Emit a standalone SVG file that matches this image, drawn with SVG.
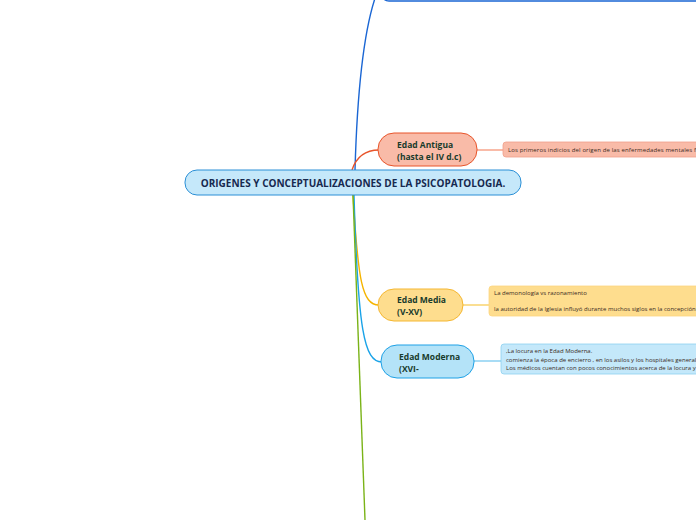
<svg xmlns="http://www.w3.org/2000/svg" width="696" height="520" viewBox="0 0 696 520">
<style>
.t{font-family:"Open Sans","Noto Sans","DejaVu Sans",sans-serif}
.title{font-size:10px;font-weight:bold;fill:#17294f}
.nt{font-size:8.5px;font-weight:bold;fill:#183b2c}
.ct{font-size:6px;fill:#3a2a22}
.conn{fill:none;stroke-width:1.4}
</style>
<rect width="696" height="520" fill="#ffffff"/>
<g id="connectors">
<path class="conn" d="M355,170 C357,100 362,30 378,-10" stroke="#1a66d4"/>
<path class="conn" d="M352,170 C356,158 365,150 379,150" stroke="#e8542a"/>
<path class="conn" d="M353,195 C358,280 362,305 379,305" stroke="#f5b400"/>
<path class="conn" d="M354,195 C358,330 364,362 382,362" stroke="#1aa3e8"/>
<path class="conn" d="M353,195 L365,520" stroke="#7ab317" stroke-width="1.6"/>
<path d="M477,150 L503,150" stroke="#f9bba8" stroke-width="2"/>
<path d="M463,305 L489,305" stroke="#f7c84a" stroke-width="1.2"/>
<path d="M474,361 L501,361" stroke="#a8dcf5" stroke-width="2"/>
</g>
<g id="top-node">
<rect x="381" y="-40" width="340" height="41" rx="8" fill="#ffffff" stroke="#1a66d4" stroke-width="1.4"/>
</g>
<g id="central">
<rect x="185" y="170" width="336" height="25" rx="12" fill="#c5e8fa" stroke="#2a8fd6" stroke-width="1"/>
<text class="t title" x="353" y="186.5" text-anchor="middle">ORIGENES Y CONCEPTUALIZACIONES DE LA PSICOPATOLOGIA.</text>
</g>
<g id="edad-antigua">
<rect x="378" y="133" width="99" height="33" rx="16" fill="#f9bba8" stroke="#e8542a" stroke-width="1"/>
<text class="t nt" x="397" y="148">Edad Antigua</text>
<text class="t nt" x="397" y="160">(hasta el IV d.c)</text>
</g>
<g id="antigua-child">
<rect x="503" y="142" width="210" height="15" rx="3" fill="#f9bba8" stroke="#f0a08a" stroke-width="0.8"/>
<text class="t ct" x="508" y="152" textLength="188" lengthAdjust="spacing">Los primeros indicios del origen de las enfermedades mentales f</text>
</g>
<g id="edad-media">
<rect x="378" y="289" width="85" height="32" rx="16" fill="#fedd8e" stroke="#f5b731" stroke-width="1"/>
<text class="t nt" x="397" y="303">Edad Media</text>
<text class="t nt" x="397" y="315">(V-XV)</text>
</g>
<g id="media-child">
<rect x="489" y="286" width="220" height="30" rx="3" fill="#fedd8e" stroke="#fcd580" stroke-width="0.8"/>
<text class="t ct" x="494" y="295">La demonología vs razonamiento</text>
<text class="t ct" x="494" y="311">la autoridad de la Iglesia influyó durante muchos siglos en la concepción</text>
</g>
<g id="edad-moderna">
<rect x="381" y="345" width="93" height="33" rx="16" fill="#b4e3f8" stroke="#1ea1e6" stroke-width="1"/>
<text class="t nt" x="399" y="360">Edad Moderna</text>
<text class="t nt" x="399" y="372">(XVI-</text>
</g>
<g id="moderna-child">
<rect x="501" y="344" width="210" height="30" rx="3" fill="#c4e8fa" stroke="#8dd0f0" stroke-width="0.8"/>
<text class="t ct" x="506" y="353">,La locura en la Edad Moderna.</text>
<text class="t ct" x="506" y="361.5">comienza la época de encierro , en los asilos y los hospitales generales</text>
<text class="t ct" x="506" y="370">Los médicos cuentan con pocos conocimientos acerca de la locura y</text>
</g>
</svg>
